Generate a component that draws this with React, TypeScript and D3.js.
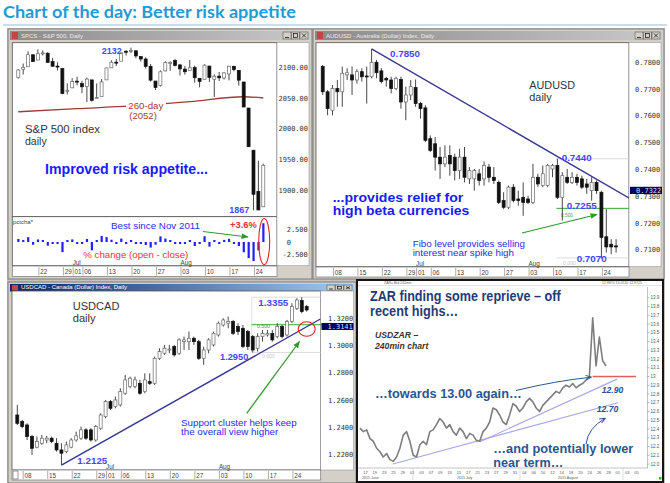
import React from "react";
import * as d3 from "d3";

const SANS = "'Liberation Sans', Arial, Helvetica, sans-serif";
const MONO = "'DejaVu Sans Mono', 'Liberation Mono', monospace";

// ---------------- S&P 500 daily (16 Jun - 26 Aug 2015) ----------------
const spxOpen = [2084.26, 2097.40, 2101.58, 2121.06, 2112.50, 2123.16, 2123.65, 2109.96, 2102.62, 2098.63, 2061.19,
  2067.00, 2078.03, 2073.95, 2069.52, 2080.04, 2049.73, 2052.74, 2080.03, 2099.72, 2109.02, 2110.55, 2126.80, 2126.85, 2127.55, 2118.21, 2114.16, 2102.24, 2078.19, 2070.75, 2094.70, 2106.78, 2111.60,
  2104.49, 2097.68, 2095.27, 2100.13, 2082.61, 2080.98, 2102.66, 2081.10, 2086.19, 2083.15, 2089.70, 2101.99, 2095.69, 2076.61, 2034.08, 1965.15, 1898.08, 1872.75];
const spxHigh = [2097.40, 2106.79, 2126.65, 2121.64, 2129.87, 2128.03, 2125.10, 2116.04, 2108.92, 2098.63, 2074.28,
  2082.78, 2085.06, 2078.61, 2083.74, 2080.04, 2074.28, 2081.31, 2099.88, 2111.98, 2114.14, 2124.42, 2128.91, 2132.82, 2128.49, 2118.51, 2116.87, 2106.01, 2078.19, 2095.60, 2110.60, 2110.48, 2114.24,
  2105.70, 2102.51, 2112.66, 2103.32, 2082.61, 2105.35, 2102.66, 2089.06, 2092.93, 2092.45, 2102.87, 2103.47, 2096.17, 2076.61, 2034.08, 1965.15, 1948.04, 1943.09];
const spxLow = [2082.10, 2088.86, 2101.58, 2109.45, 2112.50, 2119.89, 2108.58, 2101.78, 2095.38, 2056.64, 2056.32,
  2067.00, 2071.02, 2058.40, 2044.02, 2044.66, 2049.73, 2052.74, 2080.03, 2099.72, 2102.49, 2110.55, 2119.88, 2123.66, 2115.40, 2110.00, 2098.63, 2077.09, 2063.52, 2069.09, 2094.08, 2094.97, 2102.07,
  2087.31, 2088.60, 2095.27, 2075.53, 2067.91, 2080.98, 2076.49, 2052.09, 2078.26, 2080.61, 2079.30, 2094.14, 2070.53, 2035.73, 1970.89, 1867.01, 1867.08, 1872.75];
const spxClose = [2096.29, 2100.44, 2121.24, 2109.99, 2122.85, 2124.20, 2108.58, 2102.31, 2101.49, 2057.64, 2063.11,
  2077.42, 2076.78, 2068.76, 2081.34, 2046.68, 2051.31, 2076.62, 2099.60, 2108.95, 2107.40, 2124.29, 2126.64, 2128.28, 2119.21, 2114.15, 2102.15, 2079.65, 2067.64, 2093.25, 2108.57, 2108.63, 2103.84,
  2098.04, 2093.32, 2099.84, 2083.56, 2077.57, 2104.18, 2084.07, 2086.05, 2083.39, 2091.54, 2102.44, 2096.92, 2079.61, 2035.73, 1970.89, 1893.21, 1867.61, 1940.51];
const spxMAIndex = [0, 12, 23, 35, 46, 50];
const spxMAValue = [2028, 2033, 2037.5, 2044.5, 2052.5, 2050.5];
const spxAxisTicks = [2100, 2050, 2000, 1950, 1900];
const pctAxisTicks = [2.5, 0, -2.5];
const spxTickIdx = [4, 9, 11, 13, 18, 23, 28, 33, 38, 43, 48];
const spxTickLabels = ["22", "29", "01", "06", "13", "20", "27", "03", "10", "17", "24"];
const spxMonthIdx = [11, 33];
const monthLabels = ["Jul", "Aug"];

// ---------------- AUDUSD daily (4 Jun - 27 Aug 2015) ----------------
const audOpen = [.7784, .7690, .7621, .7702, .7690, .7753, .7753, .7734, .7765, .7749, .7746, .7800, .7768, .7740, .7734, .7702, .7736, .7652, .7678, .7706,
  .7646, .7630, .7515, .7496, .7446, .7421, .7452, .7446, .7396, .7446, .7365, .7365, .7384, .7365, .7409, .7371, .7352, .7284, .7259, .7334,
  .7290, .7296, .7290, .7277, .7371, .7340, .7340, .7402, .7415, .7296, .7371, .7352, .7371, .7365, .7346, .7321, .7352, .7315, .7149, .7121, .7115];
const audHigh = [.7790, .7696, .7715, .7734, .7784, .7778, .7784, .7774, .7778, .7784, .7850, .7809, .7778, .7746, .7746, .7746, .7746, .7709, .7734, .7736,
  .7652, .7640, .7527, .7521, .7484, .7490, .7490, .7459, .7477, .7484, .7409, .7402, .7402, .7430, .7421, .7409, .7359, .7315, .7340, .7346,
  .7321, .7352, .7302, .7421, .7384, .7415, .7421, .7421, .7440, .7390, .7402, .7390, .7384, .7377, .7365, .7371, .7359, .7321, .7252, .7140, .7140];
const audLow = [.7678, .7602, .7602, .7634, .7634, .7734, .7678, .7721, .7728, .7646, .7740, .7740, .7721, .7709, .7684, .7696, .7627, .7584, .7659, .7634,
  .7590, .7502, .7465, .7396, .7365, .7409, .7377, .7359, .7365, .7352, .7346, .7321, .7340, .7340, .7352, .7346, .7271, .7252, .7252, .7277,
  .7265, .7227, .7271, .7271, .7334, .7334, .7334, .7371, .7290, .7209, .7346, .7346, .7340, .7327, .7309, .7284, .7309, .7068, .7090, .7084, .7090];
const audClose = [.7690, .7627, .7702, .7690, .7759, .7761, .7734, .7765, .7746, .7746, .7800, .7761, .7728, .7734, .7702, .7740, .7652, .7678, .7709, .7646,
  .7627, .7509, .7471, .7446, .7421, .7446, .7421, .7396, .7446, .7371, .7396, .7396, .7359, .7415, .7371, .7359, .7277, .7259, .7334, .7284,
  .7284, .7277, .7277, .7371, .7346, .7384, .7415, .7415, .7296, .7377, .7352, .7371, .7352, .7334, .7334, .7352, .7321, .7146, .7111, .7111, .7111];
const audAxisTicks = [0.78, 0.77, 0.76, 0.75, 0.74, 0.73, 0.72, 0.71];
const audTrend = [[10, 0.7850], [62.7, 0.7293]];
const audFib = [0.7440, 0.7255, 0.7070];
const audFibStart = 48;
const audLast = 0.7322;
const audTickIdx = [2, 7, 12, 17, 19, 22, 27, 32, 37, 42, 47, 52, 57];
const fxTickLabels = ["08", "15", "22", "29", "01", "06", "13", "20", "27", "03", "10", "17", "24"];
const audMonthIdx = [19, 42];

// ---------------- USDCAD daily (5 Jun - 27 Aug 2015) ----------------
const cadOpen = [1.2492, 1.2444, 1.2419, 1.2334, 1.2256, 1.2285, 1.2309, 1.2322, 1.2285, 1.2236, 1.2224, 1.2256, 1.2309, 1.2322, 1.2383, 1.2383, 1.2309, 1.2395, 1.2480, 1.2590,
  1.2553, 1.2566, 1.2651, 1.2700, 1.2700, 1.2724, 1.2663, 1.2736, 1.2724, 1.2907, 1.2944, 1.2968, 1.2993, 1.2944, 1.3029, 1.3029, 1.3054, 1.3029, 1.2907, 1.2968,
  1.3005, 1.3078, 1.3151, 1.3164, 1.3176, 1.3139, 1.3127, 1.3103, 1.3066, 1.2981, 1.3066, 1.3078, 1.3090, 1.3066, 1.3139, 1.3078, 1.3176, 1.3273, 1.3330, 1.3286];
const cadHigh = [1.2566, 1.2456, 1.2431, 1.2346, 1.2334, 1.2346, 1.2339, 1.2334, 1.2322, 1.2285, 1.2297, 1.2322, 1.2370, 1.2407, 1.2395, 1.2395, 1.2419, 1.2504, 1.2602, 1.2602,
  1.2627, 1.2688, 1.2785, 1.2773, 1.2773, 1.2749, 1.2797, 1.2797, 1.2920, 1.2981, 1.3005, 1.3005, 1.3005, 1.3054, 1.3066, 1.3103, 1.3066, 1.3042, 1.2993, 1.3054,
  1.3103, 1.3176, 1.3200, 1.3212, 1.3188, 1.3164, 1.3151, 1.3115, 1.3078, 1.3090, 1.3115, 1.3115, 1.3115, 1.3164, 1.3151, 1.3188, 1.3310, 1.3347, 1.3355, 1.3298];
const cadLow = [1.2419, 1.2395, 1.2309, 1.2200, 1.2248, 1.2273, 1.2285, 1.2285, 1.2224, 1.2125, 1.2212, 1.2248, 1.2297, 1.2309, 1.2309, 1.2297, 1.2297, 1.2383, 1.2468, 1.2529,
  1.2541, 1.2553, 1.2639, 1.2688, 1.2688, 1.2639, 1.2651, 1.2712, 1.2712, 1.2895, 1.2932, 1.2944, 1.2920, 1.2932, 1.2968, 1.2968, 1.3005, 1.2895, 1.2859, 1.2944,
  1.2993, 1.3066, 1.3139, 1.3127, 1.3078, 1.3078, 1.2981, 1.2968, 1.2950, 1.2956, 1.3029, 1.3066, 1.3029, 1.3054, 1.3054, 1.3066, 1.3164, 1.3261, 1.3237, 1.3249];
const cadClose = [1.2431, 1.2407, 1.2334, 1.2248, 1.2297, 1.2322, 1.2322, 1.2297, 1.2236, 1.2212, 1.2273, 1.2309, 1.2339, 1.2383, 1.2322, 1.2309, 1.2407, 1.2492, 1.2590, 1.2541,
  1.2602, 1.2663, 1.2749, 1.2761, 1.2749, 1.2651, 1.2749, 1.2724, 1.2907, 1.2956, 1.2981, 1.2975, 1.2932, 1.3042, 1.3042, 1.3054, 1.3029, 1.2907, 1.2968, 1.3042,
  1.3090, 1.3164, 1.3188, 1.3176, 1.3090, 1.3103, 1.2993, 1.2993, 1.2968, 1.3066, 1.3090, 1.3090, 1.3042, 1.3139, 1.3066, 1.3176, 1.3286, 1.3334, 1.3249, 1.3261];
const cadAxisTicks = [1.32, 1.30, 1.28, 1.26, 1.24, 1.22];
const cadTrend = [[9, 1.2125], [61.8, 1.3195]];
const cadFib = [1.3355, 1.3153, 1.2950];
const cadFibStart = 48;
const cadLast = 1.3141;
const cadTickIdx = [1, 6, 11, 16, 18, 21, 26, 31, 36, 41, 46, 51, 56];
const cadMonthIdx = [18, 41];

// ---------------- USDZAR 240min ----------------
const zarClose = [12.41, 12.37, 12.39, 12.29, 12.26, 12.18, 12.14, 12.08, 12.12, 12.05,
  12.03, 12.08, 12.18, 12.33, 12.37, 12.26, 12.10, 12.08, 12.22, 12.26,
  12.22, 12.37, 12.39, 12.45, 12.52, 12.48, 12.41, 12.45, 12.37, 12.33,
  12.41, 12.37, 12.29, 12.35, 12.33, 12.27, 12.26, 12.37, 12.41, 12.48,
  12.64, 12.62, 12.56, 12.48, 12.45, 12.56, 12.69, 12.66, 12.60, 12.64,
  12.71, 12.75, 12.71, 12.64, 12.60, 12.67, 12.71, 12.75, 12.79, 12.83,
  12.81, 12.87, 12.90, 12.88, 12.92, 12.87, 12.90, 12.92, 12.96, 13.00,
  13.67, 13.12, 13.45, 13.18, 13.12];
const zarAxisTicks = [12.0, 12.1, 12.2, 12.3, 12.4, 12.5, 12.6, 12.7, 12.8, 12.9, 13.0, 13.1, 13.2, 13.3, 13.4, 13.5, 13.6, 13.7, 13.8, 13.9];
const zarTrendLow = [[9.9, 12.0], [77.6, 12.70]];
const zarTrendHigh = [[36.1, 12.255], [77.3, 12.97]];
const zarLevel = [[70, 13.0], [83, 13.0]];
const zarDateLabels = ["17", "19", "23", "25", "29", "01", "03", "07", "09", "13", "15", "17", "21", "23", "27", "29", "31", "04", "06", "10", "12", "14", "18", "20", "24", "26", "28", "01", "03", "05"];
const zarMonths = ["2015 June", "2015 July", "2015 August"];

type TP = { x: number; y: number; w?: number; s: number; fill: string; bold?: boolean; italic?: boolean; fam?: string; children: any; anchor?: string };
function T({ x, y, w, s, fill, bold, italic, fam, children, anchor }: TP) {
  const extra: any = w ? { textLength: w, lengthAdjust: "spacingAndGlyphs" } : {};
  return (
    <text x={x} y={y} fontSize={s} fill={fill} fontWeight={bold ? "bold" : "normal"} fontStyle={italic ? "italic" : "normal"}
      fontFamily={fam || SANS} textAnchor={anchor || "start"} {...extra}>{children}</text>
  );
}

function Candles({ xs, ys, o, h, l, c, w }: any) {
  return (
    <g>
      {o.map((op: number, i: number) => {
        const cl = c[i];
        const x = xs(i);
        const up = cl >= op;
        const yT = ys(Math.max(op, cl));
        const yB = ys(Math.min(op, cl));
        return (
          <g key={i}>
            <line x1={x} x2={x} y1={ys(h[i])} y2={ys(l[i])} stroke="#333" strokeWidth={0.9} />
            <rect x={x - w / 2} y={yT} width={w} height={Math.max(1, yB - yT)} fill={up ? "#fff" : "#111"}
              stroke={up ? "#6a6a6a" : "#111"} strokeWidth={0.7} />
          </g>
        );
      })}
    </g>
  );
}

function Win({ x, y, w, h, title, active, tbH }: any) {
  const bx = x + w - 29;
  return (
    <g>
      <rect x={x} y={y} width={w} height={h} fill="#d4d0c8" stroke="#7c7c7c" strokeWidth={1} />
      <rect x={x + 2} y={y + 2} width={w - 4} height={tbH} fill={active ? "url(#tbA)" : "url(#tbI)"} />
      <rect x={x + 4} y={y + 3} width={6} height={tbH - 2} fill="#c8443c" />
      <text x={x + 13} y={y + tbH - 0.5} fontSize={6} fill={active ? "#ffffff" : "#ececec"} fontFamily={SANS}>{title}</text>
      {[0, 1, 2].map((k) => (
        <g key={k}>
          <rect x={bx + k * 8.5} y={y + 3} width={8} height={tbH - 2} fill="#d4d0c8" stroke="#444" strokeWidth={0.5} />
        </g>
      ))}
      <line x1={bx + 2} x2={bx + 6} y1={y + tbH - 0.5} y2={y + tbH - 0.5} stroke="#111" strokeWidth={0.8} />
      <rect x={bx + 10.5} y={y + 4.5} width={4} height={tbH - 5} fill="none" stroke="#111" strokeWidth={0.7} />
      <path d={`M${bx + 19},${y + 4.5} L${bx + 23},${y + tbH - 0.5} M${bx + 23},${y + 4.5} L${bx + 19},${y + tbH - 0.5}`} stroke="#111" strokeWidth={0.8} />
    </g>
  );
}

function DateStrip({ x0, x1, y0, y1, xs, idx, labels, months, monthIdx }: any) {
  return (
    <g>
      <rect x={x0} y={y0} width={x1 - x0} height={y1 - y0} fill="#fff" stroke="#777" strokeWidth={0.7} />
      {idx.map((i: number, k: number) => (
        <g key={k}>
          <line x1={xs(i) + 1} x2={xs(i) + 1} y1={y0 + 1} y2={y1 - 1} stroke="#8a8a8a" strokeWidth={0.7} />
          <text x={xs(i) + 2.3} y={y1 - 2.4} fontSize={6.3} fill="#444" fontFamily={SANS}>{labels[k]}</text>
        </g>
      ))}
      {monthIdx.map((i: number, k: number) => (
        <text key={"m" + k} x={xs(i) + 0.5} y={y0 - 1} fontSize={6.3} fill="#444" fontFamily={SANS}>{months[k]}</text>
      ))}
    </g>
  );
}

export default function App() {
  // ---- scales ----
  const spxX = d3.scaleLinear().domain([-1.22, 52.8]).range([12.3, 277]);
  const spxY = d3.scaleLinear().domain([1858.2, 2140.8]).range([215.7, 42.7]);
  const pctY = d3.scaleLinear().domain([-4.56, 4.87]).range([265.7, 216.7]);
  const audX = d3.scaleLinear().domain([-1.37, 62.64]).range([316, 629]);
  const audY = d3.scaleLinear().domain([0.70373, 0.78731]).range([266.7, 42.7]);
  const cadX = d3.scaleLinear().domain([-1.08, 61.86]).range([12, 320.7]);
  const cadY = d3.scaleLinear().domain([1.2089, 1.34]).range([470, 291]);
  const zarX = d3.scaleLinear().domain([0, 74]).range([360, 606]);
  const zarY = d3.scaleLinear().domain([12, 14]).range([464, 289]);
  const zarDX = d3.scaleLinear().domain([0, zarDateLabels.length - 1]).range([365.5, 636.5]);

  const pct = spxOpen.map((o, i) => ((spxClose[i] - o) / o) * 100);
  const maLine = d3.line<number>().x((_, k) => spxX(spxMAIndex[k])).y((v) => spxY(v)).curve(d3.curveMonotoneX)(spxMAValue) || "";
  const zarLine = d3.line<number>().x((_, i) => zarX(i)).y((v) => zarY(v))(zarClose) || "";

  const blue = "#2b2bf0";
  const lblue = "#4646ff";
  const green = "#2e9a2e";
  const zarBlue = "#2b5591";

  return (
    <div style={{ position: "absolute", left: 0, top: 0, width: 670, height: 483, background: "#fff" }}>
      <svg width={670} height={483} style={{ display: "block" }}>
        <defs>
          <linearGradient id="tbI" x1="0" x2="1" y1="0" y2="0">
            <stop offset="0" stopColor="#8a8a8a" />
            <stop offset="1" stopColor="#c9c9c9" />
          </linearGradient>
          <linearGradient id="tbA" x1="0" x2="1" y1="0" y2="0">
            <stop offset="0" stopColor="#0a246a" />
            <stop offset="1" stopColor="#a6caf0" />
          </linearGradient>
          <marker id="ahG" viewBox="0 0 10 10" refX="9" refY="5" markerWidth="6" markerHeight="6" orient="auto">
            <path d="M0,1 L10,5 L0,9 z" fill={green} />
          </marker>
          <marker id="ahB" viewBox="0 0 10 10" refX="9" refY="5" markerWidth="6" markerHeight="6" orient="auto">
            <path d="M0,1 L10,5 L0,9" fill="none" stroke={zarBlue} strokeWidth={1.5} />
          </marker>
          <clipPath id="cSpx"><rect x={12.3} y={42.7} width={264.7} height={174} /></clipPath>
          <clipPath id="cAud"><rect x={316} y={42.7} width={313} height={224} /></clipPath>
          <clipPath id="cCad"><rect x={12} y={291} width={308.7} height={179} /></clipPath>
          <clipPath id="cZar"><rect x={358} y={286} width={290} height={182} /></clipPath>
        </defs>
        <rect x={0} y={0} width={670} height={483} fill="#fff" />

        {/* Title */}
        <text x={3} y={18} fontSize={17.5} fill="#1f9ad8" fontWeight={700} fontFamily="Lato, 'Liberation Sans', sans-serif"
          textLength={293} lengthAdjust="spacingAndGlyphs">Chart of the day: Better risk appetite</text>
        <line x1={3} x2={667} y1={25} y2={25} stroke="#b9d3e2" strokeWidth={1.6} />

        {/* backdrop */}
        <rect x={7} y={28} width={658} height={455} fill="#c6c2ba" />

        {/* ================= S&P 500 window ================= */}
        <Win x={8} y={29} w={304} h={250} tbH={9} title="SPCS - S&P 500, Daily" active={false} />
        <rect x={12.3} y={42.7} width={264.7} height={174} fill="#fff" stroke="#555" strokeWidth={0.8} />
        <rect x={12.3} y={216.7} width={264.7} height={49} fill="#fff" stroke="#555" strokeWidth={0.8} />
        <rect x={277} y={42.7} width={32} height={223} fill="#fff" stroke="#999" strokeWidth={0.6} />
        {spxAxisTicks.map((v) => (
          <text key={v} x={278.5} y={spxY(v) + 2.5} fontSize={7} fill="#333" fontFamily={MONO}>{v.toFixed(2)}</text>
        ))}
        {pctAxisTicks.map((v) => (
          <text key={v} x={v < 0 ? 282.5 : 286.7} y={pctY(v) + 2.5} fontSize={7} fill="#333" fontFamily={MONO}>{v === 0 ? "0" : v.toFixed(3)}</text>
        ))}
        <g clipPath="url(#cSpx)">
          <path d={maLine} fill="none" stroke="#a23a3a" strokeWidth={1.3} />
          <rect x={126} y={100} width={40} height={20} fill="#fff" />
          <Candles xs={spxX} ys={spxY} o={spxOpen} h={spxHigh} l={spxLow} c={spxClose} w={3} />
        </g>
        <T x={101.7} y={53.5} w={20} s={9.5} fill={lblue} bold>2132</T>
        <T x={128.3} y={109} w={35} s={9} fill="#a33a3a">260-day</T>
        <T x={129.3} y={118.5} w={27.5} s={9} fill="#a33a3a">(2052)</T>
        <T x={25} y={133} w={75} s={10} fill="#333">S&amp;P 500 index</T>
        <T x={25} y={144.5} w={21.7} s={10} fill="#333">daily</T>
        <T x={45} y={174} w={163} s={14} fill="#1a1aff" bold>Improved risk appetite...</T>
        <T x={229.3} y={212.5} w={20} s={9.5} fill={lblue} bold>1867</T>
        {/* sub pane */}
        {pct.map((v, i) => {
          const y0 = pctY(0);
          const y1 = pctY(v);
          let top = Math.min(y0, y1);
          let hgt = Math.abs(y1 - y0);
          if (hgt < 2) { hgt = 2; top = v >= 0 ? y0 - 2 : y0; }
          return <rect key={i} x={spxX(i) - 1} y={top} width={2.2} height={hgt} fill="#1f1fff" />;
        })}
        <T x={13} y={223.5} w={20} s={6} fill="#444">pctcha*</T>
        <T x={111} y={228.5} w={89} s={9.5} fill={blue}>Best since Nov 2011</T>
        <T x={230} y={228.3} w={26.7} s={9} fill="#e83030" bold>+3.6%</T>
        <T x={83.3} y={257.5} w={105} s={9.5} fill="#ee3333">% change (open - close)</T>
        <line x1={203} y1={231.5} x2={248} y2={237} stroke={green} strokeWidth={1.2} markerEnd="url(#ahG)" />
        <ellipse cx={264.2} cy={241.5} rx={5.5} ry={23} fill="none" stroke="#e02020" strokeWidth={1.1} />
        <DateStrip x0={12.3} x1={277} y0={266} y1={276.5} xs={spxX} idx={spxTickIdx} labels={spxTickLabels} months={monthLabels} monthIdx={spxMonthIdx} />

        {/* ================= AUDUSD window ================= */}
        <Win x={313} y={29} w={351} h={250} tbH={9} title="AUDUSD - Australia (Dollar) Index, Daily" active={false} />
        <rect x={316} y={42.7} width={313} height={224} fill="#fff" stroke="#555" strokeWidth={0.8} />
        <rect x={629} y={42.7} width={32} height={224} fill="#fff" stroke="#999" strokeWidth={0.6} />
        {audAxisTicks.map((v) => (
          <text key={v} x={635} y={audY(v) + 2.5} fontSize={7} fill="#333" fontFamily={MONO}>{v.toFixed(4)}</text>
        ))}
        <g clipPath="url(#cAud)">
          {audFib.map((v, k) => (
            <line key={k} x1={audX(audFibStart) - 1} x2={629} y1={audY(v)} y2={audY(v)}
              stroke={k === 1 ? "#3aa63a" : "#d2d2d2"} strokeWidth={k === 1 ? 1 : 0.8} />
          ))}
          <T x={561} y={216.5} w={12} s={5} fill="#3aa63a">0.500</T>
          <T x={563} y={264.5} w={13} s={5.5} fill="#c8c8c8">0.000</T>
          <Candles xs={audX} ys={audY} o={audOpen} h={audHigh} l={audLow} c={audClose} w={3} />
          <line x1={audX(audTrend[0][0])} y1={audY(audTrend[0][1])} x2={audX(audTrend[1][0])} y2={audY(audTrend[1][1])}
            stroke="#363696" strokeWidth={1.4} />
        </g>
        <rect x={630} y={audY(audLast) - 3.6} width={32} height={7.2} fill="#00005e" />
        <text x={636} y={audY(audLast) + 2.5} fontSize={7} fill="#d8d8ff" fontFamily={MONO}>{audLast.toFixed(4)}</text>
        <T x={390} y={56.5} w={30} s={9.5} fill={lblue} bold>0.7850</T>
        <T x={529.3} y={89} w={45.7} s={10} fill="#333">AUDUSD</T>
        <T x={529.3} y={101} w={22.4} s={10} fill="#333">daily</T>
        <T x={561.7} y={160.5} w={30} s={9.5} fill={lblue} bold>0.7440</T>
        <T x={332.7} y={201.5} w={130.6} s={13} fill="#1a1aff" bold>...provides relief for</T>
        <T x={332.7} y={215} w={136.7} s={13} fill="#1a1aff" bold>high beta currencies</T>
        <T x={566.7} y={209} w={30} s={9.5} fill={lblue} bold>0.7255</T>
        <T x={412.7} y={246.5} w={112.3} s={9.5} fill={blue}>Fibo level provides selling</T>
        <T x={412.7} y={256} w={101.3} s={9.5} fill={blue}>interest near spike high</T>
        <T x={576.7} y={261.5} w={30} s={9.5} fill={lblue} bold>0.7070</T>
        <line x1={522} y1={233} x2={597} y2={214.5} stroke={green} strokeWidth={1.2} markerEnd="url(#ahG)" />
        <DateStrip x0={316} x1={629} y0={267} y1={277} xs={audX} idx={audTickIdx} labels={fxTickLabels} months={monthLabels} monthIdx={audMonthIdx} />

        {/* ================= USDCAD window ================= */}
        <Win x={8} y={282} w={348} h={201} tbH={7.5} title="USDCAD - Canada (Dollar) Index, Daily" active={true} />
        <rect x={12} y={291} width={308.7} height={179} fill="#fff" stroke="#555" strokeWidth={0.8} />
        <rect x={320.7} y={291} width={33} height={179} fill="#fff" stroke="#999" strokeWidth={0.6} />
        {cadAxisTicks.map((v) => (
          <text key={v} x={328} y={cadY(v) + 2.5} fontSize={7} fill="#333" fontFamily={MONO}>{v.toFixed(4)}</text>
        ))}
        <g clipPath="url(#cCad)">
          <line x1={cadX(cadFibStart) - 1} x2={cadX(cadFibStart) - 1} y1={cadY(cadFib[0])} y2={cadY(cadFib[2])} stroke="#dadada" strokeWidth={0.8} />
          {cadFib.map((v, k) => (
            <line key={k} x1={cadX(cadFibStart) - 1} x2={320.7} y1={cadY(v)} y2={cadY(v)}
              stroke={k === 1 ? "#3aa63a" : "#d2d2d2"} strokeWidth={k === 1 ? 1 : 0.8} />
          ))}
          <T x={257} y={328} w={13} s={5.5} fill="#3aa63a">0.500</T>
          <T x={262} y={357.5} w={13} s={5.5} fill="#c8c8c8">0.000</T>
          <Candles xs={cadX} ys={cadY} o={cadOpen} h={cadHigh} l={cadLow} c={cadClose} w={3} />
          <line x1={cadX(cadTrend[0][0])} y1={cadY(cadTrend[0][1])} x2={cadX(cadTrend[1][0])} y2={cadY(cadTrend[1][1])}
            stroke="#363696" strokeWidth={1.4} />
        </g>
        <line x1={320.7} x2={323} y1={cadY(cadFib[1])} y2={cadY(cadFib[1])} stroke="#3aa63a" strokeWidth={1} />
        <rect x={321.5} y={cadY(cadLast) - 3.4} width={32} height={7} fill="#00005e" />
        <text x={327.5} y={cadY(cadLast) + 2.5} fontSize={7} fill="#d8d8ff" fontFamily={MONO}>{cadLast.toFixed(4)}</text>
        <T x={72.7} y={310} w={46.7} s={10} fill="#333">USDCAD</T>
        <T x={72.7} y={321.8} w={23} s={10} fill="#333">daily</T>
        <T x={258.3} y={306} w={30} s={9.5} fill={lblue} bold>1.3355</T>
        <T x={220} y={359.5} w={28.3} s={9.5} fill={lblue} bold>1.2950</T>
        <T x={181} y={425.5} w={115.7} s={9.5} fill={blue}>Support cluster helps keep</T>
        <T x={181} y={435} w={97.3} s={9.5} fill={blue}>the overall view higher</T>
        <T x={77.3} y={463.5} w={30} s={9.5} fill={lblue} bold>1.2125</T>
        <line x1={246.7} y1={413.3} x2={299.5} y2={341.5} stroke={green} strokeWidth={1.2} markerEnd="url(#ahG)" />
        <ellipse cx={306.7} cy={329} rx={8.5} ry={7.3} fill="none" stroke="#e02020" strokeWidth={1.1} />
        <DateStrip x0={12} x1={320.7} y0={470} y1={480} xs={cadX} idx={cadTickIdx} labels={fxTickLabels} months={monthLabels} monthIdx={cadMonthIdx} />
        <rect x={13} y={471} width={5} height={8} fill="#fff" stroke="#555" strokeWidth={0.6} />

        {/* ================= USDZAR panel ================= */}
        <rect x={357} y={280} width={306} height={202} fill="#fff" stroke="#151515" strokeWidth={2} />
        <line x1={358} x2={662} y1={285.5} y2={285.5} stroke="#cfcfcf" strokeWidth={0.6} />
        <text x={384} y={284.3} fontSize={3.5} fill="#666" fontFamily={SANS}>ZAR= Bid 240min</text>
        <text x={602} y={284.3} fontSize={3.5} fill="#666" fontFamily={SANS}>12.9870  13.0510  12.9725</text>
        <line x1={647.5} x2={647.5} y1={287} y2={468} stroke="#9a9a9a" strokeWidth={0.6} />
        {zarAxisTicks.map((v) => (
          <g key={v}>
            <line x1={647.5} x2={649.5} y1={zarY(v)} y2={zarY(v)} stroke="#777" strokeWidth={0.5} />
            <text x={650.5} y={zarY(v) + 1.6} fontSize={4.5} fill="#555" fontFamily={SANS}>{v === 13 ? "13" : v.toFixed(1)}</text>
          </g>
        ))}
        <line x1={358} x2={648} y1={468} y2={468} stroke="#9a9a9a" strokeWidth={0.6} />
        {zarDateLabels.map((l, k) => (
          <text key={k} x={zarDX(k)} y={473.5} fontSize={4} fill="#555" fontFamily={SANS} textAnchor="middle">{l}</text>
        ))}
        <line x1={413} x2={413} y1={468} y2={480} stroke="#bbb" strokeWidth={0.5} />
        <line x1={520} x2={520} y1={468} y2={480} stroke="#bbb" strokeWidth={0.5} />
        <line x1={623} x2={623} y1={468} y2={480} stroke="#bbb" strokeWidth={0.5} />
        <text x={362} y={479} fontSize={3.6} fill="#555" fontFamily={SANS}>{zarMonths[0]}</text>
        <text x={457} y={479} fontSize={3.6} fill="#555" fontFamily={SANS}>{zarMonths[1]}</text>
        <text x={558} y={479} fontSize={3.6} fill="#555" fontFamily={SANS}>{zarMonths[2]}</text>
        <rect x={659} y={477} width={2.5} height={2.5} fill="#2db82d" />
        <g clipPath="url(#cZar)">
          <line x1={zarX(zarTrendLow[0][0])} y1={zarY(zarTrendLow[0][1])} x2={zarX(zarTrendLow[1][0])} y2={zarY(zarTrendLow[1][1])}
            stroke="#a7a7e6" strokeWidth={1.1} />
          <line x1={zarX(zarTrendHigh[0][0])} y1={zarY(zarTrendHigh[0][1])} x2={zarX(zarTrendHigh[1][0])} y2={zarY(zarTrendHigh[1][1])}
            stroke="#a7a7e6" strokeWidth={1.1} />
          <path d={zarLine} fill="none" stroke="#7e7e7e" strokeWidth={1.6} strokeLinejoin="round" />
          <line x1={zarX(zarLevel[0][0])} y1={zarY(zarLevel[0][1])} x2={zarX(zarLevel[1][0])} y2={zarY(zarLevel[1][1])}
            stroke="#e25c5c" strokeWidth={1.6} />
        </g>
        <T x={370} y={301} w={190.7} s={14.5} fill="#1f3c76" bold>ZAR finding some reprieve – off</T>
        <T x={370} y={315.5} w={88.3} s={14.5} fill="#1f3c76" bold>recent highs…</T>
        <T x={375} y={338} w={43.3} s={8.5} fill="#3a3630" bold italic>USDZAR –</T>
        <T x={375} y={349} w={53.3} s={8.5} fill="#3a3630" bold italic>240min chart</T>
        <T x={375} y={397.5} w={146.7} s={12.5} fill={zarBlue} bold>…towards 13.00 again…</T>
        <T x={601.7} y={393} w={21.6} s={8.5} fill="#2b4f86" bold italic>12.90</T>
        <T x={596.7} y={412} w={21.6} s={8.5} fill="#2b4f86" bold italic>12.70</T>
        <T x={493.3} y={452.5} w={140} s={12.5} fill={zarBlue} bold>…and potentially lower</T>
        <T x={493.3} y={467} w={70} s={12.5} fill={zarBlue} bold>near term…</T>
        <path d="M516,390.5 Q555,381 591,377.2" fill="none" stroke={zarBlue} strokeWidth={1} markerEnd="url(#ahB)" />
        <path d="M586,444 Q588,428 605,418.5" fill="none" stroke={zarBlue} strokeWidth={1} markerEnd="url(#ahB)" />
      </svg>
    </div>
  );
}
